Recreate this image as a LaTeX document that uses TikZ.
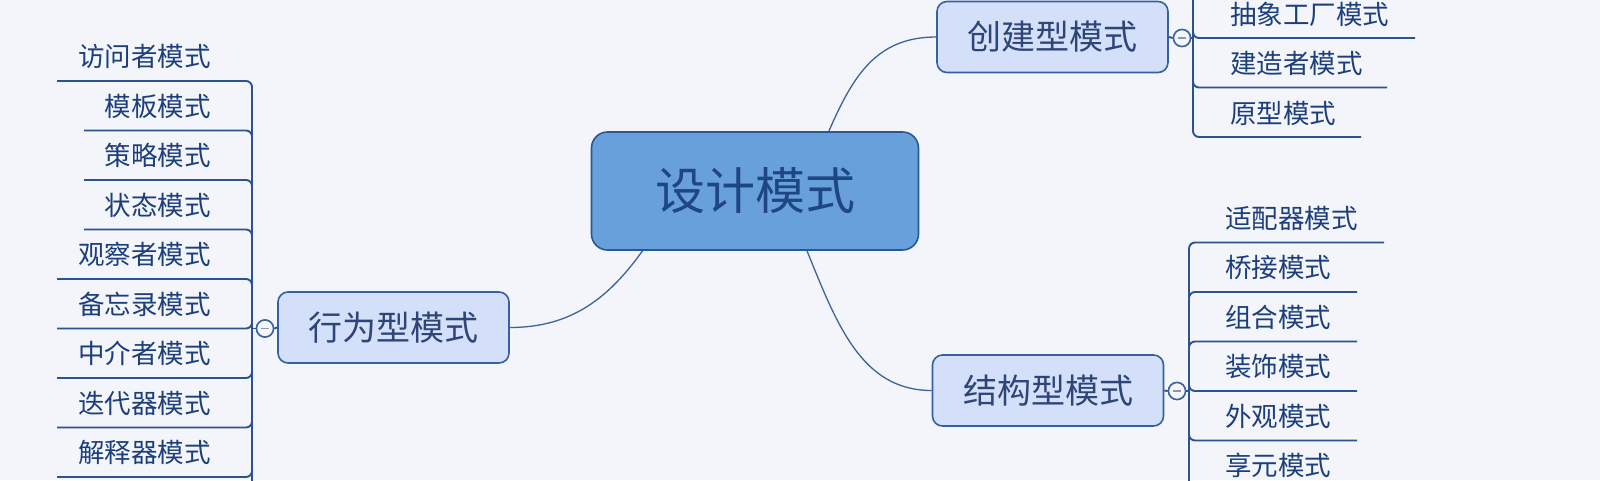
\documentclass[tikz,border=0pt]{standalone}
\usepackage{fontspec}
\newfontfamily\cjk{Noto Sans CJK SC}
\definecolor{bgcol}{HTML}{F3F5FA}
\definecolor{boxfill}{HTML}{D4E0FA}
\definecolor{boxline}{HTML}{34629F}
\definecolor{boxtext}{HTML}{2E4578}
\definecolor{centralfill}{HTML}{68A0DC}
\definecolor{centralline}{HTML}{2A5894}
\definecolor{centraltext}{HTML}{1E4682}
\definecolor{itemtext}{HTML}{1C3F7C}
\definecolor{connline}{HTML}{3D6399}
\definecolor{branchline}{HTML}{2B5390}
\definecolor{foldline}{HTML}{3D639A}
\definecolor{foldfill}{HTML}{F4F6FB}
\definecolor{minuscol}{HTML}{8A98B8}
\tikzset{
  topic/.style={draw=boxline, line width=1.6pt, fill=boxfill, rounded corners=10pt,
    minimum width=231pt, minimum height=71pt, inner sep=0pt,
    font=\cjk\fontsize{34}{40}\selectfont, text=boxtext},
  central/.style={draw=centralline, line width=1.6pt, fill=centralfill, rounded corners=16pt,
    minimum width=327pt, minimum height=118pt, inner sep=0pt,
    font=\cjk\fontsize{50}{60}\selectfont, text=centraltext},
  item/.style={inner sep=0pt, font=\cjk\fontsize{26.5}{30}\selectfont, text=itemtext},
  fold/.style={circle, draw=foldline, line width=1.5pt, fill=foldfill, minimum size=17pt, inner sep=0pt},
  minus/.style={draw=minuscol, line width=1.4pt},
  conn/.style={draw=connline, line width=1.3pt},
  branch/.style={draw=branchline, line width=1.9pt, rounded corners=6pt},
}
\begin{document}
\begin{tikzpicture}[x=1pt,y=-1pt]
\useasboundingbox (0,0) rectangle (1600,480);
\fill[bgcol] (0,0) rectangle (1600,480);
\clip (0,0) rectangle (1600,480);

% topic nodes
\node[central] (c) at (755,191) {设计模式};
\node[topic] (cj) at (1052.5,37) {创建型模式};
\node[topic] (jg) at (1048,390.5) {结构型模式};
\node[topic] (xw) at (393.5,327.5) {行为型模式};

% fold circles and junctions
\node[fold] (cL) at (265,328.5) {};
\node[fold] (cC) at (1182,38) {};
\node[fold] (cS) at (1177,391) {};
\coordinate (jL) at (252,328.5);
\coordinate (jC) at (1193,38);
\coordinate (jS) at (1189,391);
\coordinate (lBot) at (252,500);
\coordinate (cTop) at (1193,-20);
\coordinate (sBot) at (1189,500);

% main connectors
\draw[conn] (c.39.7) .. controls +(24,-55) and +(-60,0) .. (cj.west);
\draw[conn] (c.208.9) .. controls +(-35,49) and +(60,0) .. (xw.east);
\draw[conn] (c.311.9) .. controls +(30,74) and +(-70,0) .. (jg.west);

% left branches
\draw[branch] (jL) -- (lBot);
\foreach \i/\t/\u/\e in {1/访问者模式/81/57, 2/模板模式/130.5/84, 3/策略模式/180/84,
  4/状态模式/229.5/84, 5/观察者模式/279/57, 6/备忘录模式/328.5/57,
  7/中介者模式/378/57, 8/迭代器模式/427.5/57, 9/解释器模式/477/57} {
  \node[item, anchor=east] (l\i) at (211,\u-24.5) {\t};
  \coordinate (le\i) at (\e,\u);
  \draw[branch] (jL) |- (le\i);
}

% creational branches
\draw[branch] (jC) -- (cTop);
\foreach \i/\t/\u/\e in {1/抽象工厂模式/38/1415, 2/建造者模式/87.5/1387, 3/原型模式/137/1361} {
  \node[item, anchor=west] (r\i) at (1230,\u-24) {\t};
  \coordinate (re\i) at (\e,\u);
  \draw[branch] (jC) |- (re\i);
}

% structural branches
\draw[branch] (jS) -- (sBot);
\foreach \i/\t/\u/\e in {1/适配器模式/242.5/1384, 2/桥接模式/292/1357, 3/组合模式/341.5/1357,
  4/装饰模式/391/1357, 5/外观模式/440.5/1357, 6/享元模式/490/1357} {
  \node[item, anchor=west] (s\i) at (1225,\u-24.5) {\t};
  \coordinate (se\i) at (\e,\u);
  \draw[branch] (jS) |- (se\i);
}

% topic to fold circles
\draw[branch] (xw.west) -- (cL.east);
\draw[branch] (cL.west) -- (jL);
\draw[branch] (cj.east) -- (cC.west);
\draw[branch] (cC.east) -- (jC);
\draw[branch] (jg.east) -- (cS.west);
\draw[branch] (cS.east) -- (jS);

% circles on top
\node[fold] at (cL) {};
\node[fold] at (cC) {};
\node[fold] at (cS) {};
\draw[minus] ([xshift=-4pt]cL.center) -- ([xshift=4pt]cL.center);
\draw[minus] ([xshift=-4pt]cC.center) -- ([xshift=4pt]cC.center);
\draw[minus] ([xshift=-4pt]cS.center) -- ([xshift=4pt]cS.center);
\end{tikzpicture}
\end{document}
